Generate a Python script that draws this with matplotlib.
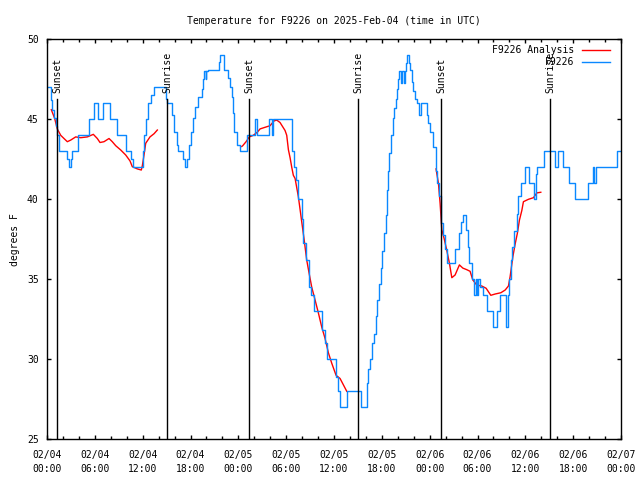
import matplotlib
matplotlib.use("Agg")
import matplotlib.pyplot as plt
import matplotlib.dates as mdates
import pandas as pd

START = pd.Timestamp("2025-02-04 00:00")

# observations (hours since 02/04 00:00 UTC, degrees F) - stepped readings
obs_hours = [
    0.12, 0.46, 0.67, 0.88, 1.09, 1.3, 1.5, 2.55, 2.76, 2.97, 3.18, 3.93,
    5.27, 5.9, 6.4, 7.07, 7.9, 8.82, 9.87, 10.58, 10.83, 12.04, 12.17, 12.38,
    12.67, 13.09, 13.43, 14.9, 15.1, 15.72, 15.93, 16.27, 16.48, 17.1, 17.3,
    17.6, 17.86, 18.07, 18.28, 18.57, 18.99, 19.4, 19.6, 19.74, 19.9, 20.0,
    20.24, 21.6, 21.7, 22.2, 22.67, 22.96, 23.17, 23.3, 23.46, 23.8, 24.2,
    25.13, 26.05, 26.3, 27.9, 28.2, 28.4, 30.78, 31.03, 31.2, 31.53, 31.96,
    32.16, 32.5, 32.9, 33.12, 33.54, 34.46, 34.88, 35.17, 36.26, 36.55, 36.76,
    37.6, 39.4, 40.1, 40.3, 40.5, 40.74, 41.03, 41.24, 41.37, 41.66, 41.87,
    42.07, 42.28, 42.5, 42.62, 42.74, 42.95, 43.16, 43.37, 43.55, 43.75,
    43.87, 44.0, 44.16, 44.4, 44.55, 44.75, 44.9, 45.04, 45.2, 45.45, 45.55,
    45.76, 45.96, 46.17, 46.4, 46.6, 46.7, 46.93, 47.64, 47.84, 48.06, 48.47,
    48.77, 48.98, 49.18, 49.4, 49.65, 49.94, 50.23, 51.2, 51.7, 51.9, 52.16,
    52.57, 52.8, 52.99, 53.36, 53.6, 53.75, 53.9, 54.1, 54.3, 54.75, 55.17,
    56.0, 56.5, 56.84, 57.6, 57.8, 58.0, 58.18, 58.38, 58.63, 58.93, 59.13,
    59.43, 59.9, 60.5, 61.1, 61.35, 61.5, 62.36, 63.74, 64.16, 64.78, 65.5,
    66.25, 67.84, 68.47, 68.6, 68.88, 71.48, 72.0,
]
obs_temps = [
    47.0, 46.2, 45.6, 45.1, 44.6, 44.0, 43.0, 42.5, 42.0, 42.5, 43.0, 44.0,
    45.0, 46.0, 45.0, 46.0, 45.0, 44.0, 43.0, 42.5, 42.0, 43.0, 44.0, 45.0,
    46.0, 46.5, 47.0, 46.3, 46.0, 45.3, 44.2, 43.4, 43.0, 42.5, 42.0,
    42.5, 43.4, 44.2, 45.1, 45.8, 46.4, 46.9, 47.5, 48.0, 47.5, 48.0,
    48.1, 48.6, 49.0, 48.1, 47.6, 47.0, 46.4, 45.4, 44.2, 43.4, 43.0,
    44.0, 45.0, 44.0, 45.0, 44.0, 45.0, 43.0, 42.0, 41.2, 40.0, 38.8,
    37.3, 36.2, 34.5, 34.0, 33.0, 31.8, 31.0, 30.0, 28.9, 28.0, 27.0,
    28.0, 27.0, 28.5, 29.4, 30.0, 31.0, 31.6, 32.7, 33.7, 34.7, 35.7,
    36.8, 37.9, 39.0, 40.6, 41.8, 42.9, 44.0, 45.1, 45.7, 46.3,
    46.9, 47.5, 48.0, 47.3, 48.0, 47.3, 48.0, 48.5, 49.0, 48.5, 48.1,
    47.35, 46.8, 46.3, 46.0, 45.8, 45.3, 46.0, 45.3, 44.75, 44.2, 43.3,
    41.8, 41.0, 40.2, 38.5, 37.8, 36.9, 36.0, 36.9, 37.9, 38.6, 39.0,
    38.1, 37.0, 36.0, 35.0, 34.0, 35.0, 34.0, 35.0, 34.5, 34.0, 33.0,
    32.0, 33.0, 34.0, 32.0, 34.0, 35.0, 36.2, 37.0, 38.0, 39.1, 40.2,
    41.0, 42.0, 41.0, 40.0, 41.6, 42.0, 43.0, 42.0, 43.0, 42.0, 41.0,
    40.0, 41.0, 42.0, 41.0, 42.0, 43.0, 43.0,
]

# analysis series, three separate runs (NaN breaks the line)
ana_hours = [
    0.54, 0.96, 1.29, 1.72, 2.13, 2.55, 2.97, 3.6, 4.23, 5.06, 5.81, 6.31,
    6.65, 7.15, 7.78, 8.19, 8.62, 9.25, 9.87, 10.41, 10.7, 11.33, 11.83,
    11.96, 12.17, 12.38, 12.92, 13.43, 13.84, 13.9,
    24.43, 24.55, 24.97, 25.38, 25.88, 26.39, 26.73, 27.35, 27.98, 28.48,
    28.82, 29.23, 29.86, 30.07, 30.28, 30.49, 30.7, 30.9, 31.12, 31.53, 31.87,
    32.25, 32.58, 32.87, 33.21, 33.63, 34.04, 34.47, 34.88, 35.3, 35.72,
    36.26, 36.76, 37.18, 37.6, 37.7,
    48.8, 49.1, 49.31, 49.52, 49.81, 50.15, 50.48, 50.78, 51.19, 51.73,
    52.16, 52.66, 53.07, 53.41, 53.91, 54.54, 55.08, 55.67, 56.21, 56.93,
    57.47, 57.88, 58.09, 58.43, 58.72, 59.01, 59.26, 59.56, 59.76, 60.39,
    61.02, 61.44, 61.94,
]
ana_temps = [
    45.6, 45.06, 44.4, 44.0, 43.8, 43.6, 43.7, 43.9, 43.85, 43.9, 44.06, 43.8,
    43.55, 43.6, 43.8, 43.6, 43.35, 43.08, 42.77, 42.4, 42.04, 41.9, 41.83,
    42.1, 42.77, 43.5, 43.9, 44.1, 44.33, float("nan"),
    43.3, 43.35, 43.6, 43.9, 44.0, 44.2, 44.4, 44.5, 44.6, 44.9,
    44.95, 44.8, 44.3, 44.0, 43.1, 42.6, 42.0, 41.5, 41.3, 40.16, 38.9,
    37.5, 36.2, 35.4, 34.5, 33.7, 32.9, 32.0, 31.3, 30.4, 29.75,
    29.0, 28.8, 28.4, 28.0, float("nan"),
    41.9, 41.0, 39.75, 38.1, 37.56, 36.8, 36.0, 35.1, 35.27, 35.9,
    35.7, 35.6, 35.5, 34.96, 34.64, 34.58, 34.44, 34.0, 34.08, 34.16,
    34.33, 34.58, 35.16, 36.4, 37.2, 37.9, 38.7, 39.3, 39.85, 40.0,
    40.1, 40.4, 40.44,
]

sun_hours = [1.29, 15.06, 25.38, 39.06, 49.47, 63.15]
sun_labels = ["Sunset", "Sunrise", "Sunset", "Sunrise", "Sunset", "Sunrise"]

BLUE = "#0a88ff"
RED = "#ff0000"
FONT = "DejaVu Sans Mono"
FS = 7

plt.rcParams["font.family"] = FONT
plt.rcParams["font.size"] = FS


def to_time(hours):
    return [START + pd.Timedelta(hours=h) for h in hours]


fig = plt.figure(figsize=(6.4, 4.8), dpi=100)
ax = fig.add_axes([47 / 640, 1 - 439.3 / 480, 574 / 640, 400 / 480])

ax.plot(to_time(ana_hours), ana_temps, color=RED, lw=1.0)
ax.plot(to_time(obs_hours), obs_temps, color=BLUE, lw=1.0, drawstyle="steps-post")

# sunrise / sunset markers
for h, lab in zip(sun_hours, sun_labels):
    t = START + pd.Timedelta(hours=h)
    ax.plot([t, t], [25, 46.3], color="black", lw=1.0)
    ax.text(t, 46.65, lab, rotation=90, ha="center", va="bottom", fontsize=FS)

ax.set_xlim(START, START + pd.Timedelta(hours=72))
ax.set_ylim(25, 50)
ax.set_yticks([25, 30, 35, 40, 45, 50])

ax.xaxis.set_major_locator(mdates.HourLocator(byhour=[0, 6, 12, 18]))
ax.xaxis.set_minor_locator(mdates.HourLocator(interval=2))
ax.xaxis.set_major_formatter(mdates.DateFormatter("%m/%d\n%H:%M"))

ax.tick_params(which="both", direction="in", top=True, right=True, width=1)
ax.tick_params(which="major", length=3, pad=6)
ax.tick_params(axis="x", which="major", pad=8)
ax.tick_params(which="minor", length=2)
for lbl in ax.get_xticklabels():
    lbl.set_linespacing(1.45)
for sp in ax.spines.values():
    sp.set_linewidth(1.0)

ax.set_ylabel("degrees F", labelpad=5)
ax.set_title("Temperature for F9226 on 2025-Feb-04 (time in UTC)", fontsize=FS, pad=11)

# legend drawn by hand so the labels are right aligned like gnuplot
leg_rows = [("F9226 Analysis", RED), ("F9226", BLUE)]
for i, (name, col) in enumerate(leg_rows):
    yy = 1 - (10.7 + i * 12.3) / 400
    ax.text(527 / 574, yy, name, transform=ax.transAxes, ha="right", va="center", fontsize=FS)
    ax.plot([535 / 574, 563 / 574], [yy, yy], transform=ax.transAxes, color=col, lw=1.0)

fig.savefig("out.png", dpi=100)
